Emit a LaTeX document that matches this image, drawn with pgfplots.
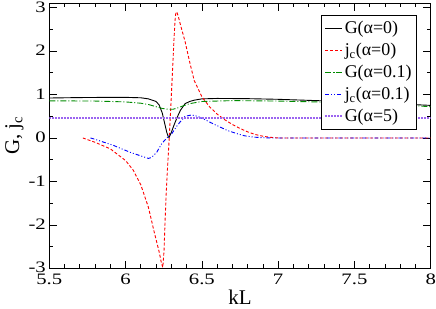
\documentclass[border=0pt]{standalone}
\usepackage{fontspec}
\setmainfont{Liberation Serif}
\newfontfamily\tickfont[FakeStretch=1.3]{Liberation Serif}
\usepackage{pgfplots}
\pgfplotsset{compat=1.18}
\definecolor{cgreen}{RGB}{0,139,0}
\definecolor{cviolet}{RGB}{155,100,240}
\begin{document}
\begin{tikzpicture}
\begin{axis}[
  scale only axis, width=381.4bp, height=265bp,
  xmin=5.5, xmax=8, ymin=-3, ymax=3.1,
  xtick={5.5,6,6.5,7,7.5,8}, minor x tick num=4,
  ytick={-3,-2,-1,0,1,2,3}, minor y tick num=1,
  tick align=inside, major tick length=7.5bp, minor tick length=4bp,
  axis line style={line width=0.9bp},
  every tick/.style={black, line width=0.7bp},
  tick label style={font=\tickfont\fontsize{16}{16}\selectfont},
  xticklabel style={yshift=-2bp},
  yticklabel style={yshift=0.5bp},
  /pgf/number format/assume math mode=true,
  xlabel={kL}, ylabel={G, j\textsubscript{c}},
  label style={font=\fontsize{21}{21}\selectfont},
  xlabel style={yshift=1.5bp},
  ylabel style={yshift=-2bp},
  legend style={at={(0.964,0.956)}, anchor=north east, draw=black, line width=0.8bp,
    font=\fontsize{18}{18}\selectfont, row sep=4bp, inner ysep=4bp, inner xsep=3bp},
  legend cell align=left,
]
\addplot[black, line width=0.9bp] coordinates {
(5.5,0.92) (5.7,0.93) (5.9,0.935) (6.0,0.935) (6.1,0.925) (6.15,0.9) (6.2,0.84) (6.22,0.76) (6.24,0.58) (6.26,0.28) (6.27,0.13) (6.28,0.03) (6.285,0.01) (6.29,0.05) (6.30,0.13) (6.32,0.32) (6.34,0.49) (6.36,0.64) (6.39,0.79) (6.42,0.84) (6.45,0.87) (6.5,0.9) (6.6,0.91) (6.8,0.905) (7.0,0.89) (7.25,0.86) (7.5,0.83) (7.75,0.79) (8.0,0.75)};
\addlegendentry{G(α=0)}
\addplot[red, line width=0.9bp, dash pattern=on 3bp off 2bp] coordinates {
(5.72,0.0) (5.8,-0.1) (5.9,-0.25) (6.0,-0.52) (6.05,-0.74) (6.1,-1.08) (6.15,-1.6) (6.19,-2.2) (6.22,-2.62) (6.235,-2.88) (6.244,-2.98) (6.252,-2.6) (6.259,-1.9) (6.266,-1.3) (6.274,-0.75) (6.287,0.06) (6.297,0.75) (6.307,1.5) (6.317,2.25) (6.324,2.7) (6.33,2.9) (6.338,2.88) (6.35,2.74) (6.36,2.6) (6.39,2.22) (6.42,1.75) (6.45,1.32) (6.5,0.95) (6.55,0.72) (6.6,0.55) (6.65,0.42) (6.7,0.31) (6.75,0.22) (6.8,0.14) (6.85,0.08) (6.9,0.04) (6.95,0.015) (7.0,0.0) (8.0,0.0)};
\addlegendentry{j\textsubscript{c}(α=0)}
\addplot[cgreen, line width=0.9bp, dash pattern=on 6bp off 2bp on 1bp off 2bp] coordinates {
(5.5,0.855) (5.8,0.85) (6.0,0.83) (6.1,0.8) (6.15,0.77) (6.2,0.72) (6.24,0.68) (6.28,0.66) (6.31,0.66) (6.34,0.69) (6.37,0.73) (6.42,0.79) (6.5,0.84) (6.7,0.86) (7.0,0.85) (7.25,0.83) (7.5,0.8) (7.75,0.77) (8.0,0.72)};
\addlegendentry{G(α=0.1)}
\addplot[blue, line width=0.9bp, dash pattern=on 4bp off 2bp on 1bp off 2bp on 1bp off 2bp] coordinates {
(5.77,0.0) (5.79,-0.02) (5.92,-0.17) (6.03,-0.33) (6.14,-0.46) (6.15,-0.47) (6.17,-0.45) (6.204,-0.33) (6.237,-0.13) (6.27,0.0) (6.303,0.1) (6.335,0.27) (6.36,0.38) (6.39,0.5) (6.434,0.53) (6.47,0.5) (6.51,0.44) (6.56,0.35) (6.62,0.25) (6.67,0.17) (6.73,0.1) (6.78,0.05) (6.84,0.02) (6.9,0.005) (6.95,0.0) (8.0,0.0)};
\addlegendentry{j\textsubscript{c}(α=0.1)}
\addplot[cviolet, line width=1.1bp, dash pattern=on 1.5bp off 1.5bp] coordinates {
(5.5,0.46) (8.0,0.46)};
\addlegendentry{G(α=5)}
\end{axis}
\pgfresetboundingbox
\path ([shift={(-49.3bp,-40.7bp)}]current axis.south west) rectangle ([shift={(5.3bp,3.3bp)}]current axis.north east);
\end{tikzpicture}
\end{document}
